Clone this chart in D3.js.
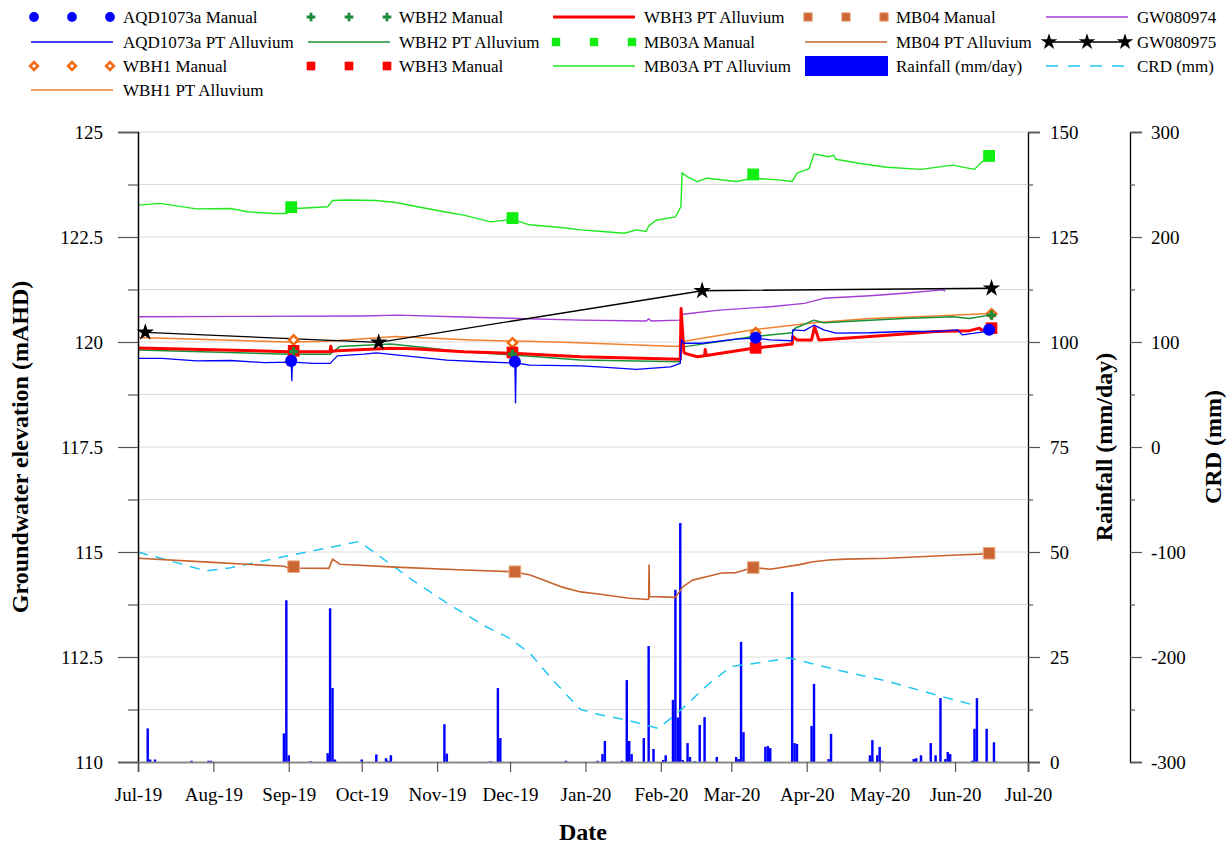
<!DOCTYPE html>
<html>
<head>
<meta charset="utf-8">
<script src="https://cdn.jsdelivr.net/npm/d3@7"></script>
<style>
  body { margin: 0; background: #fff; }
  text { font-family: "Liberation Serif", "Times New Roman", serif; fill: #000; }
</style>
</head>
<body>
<div id="chart"></div>
<script>
// ---- data ----
const monthTicks = ["2019-07-01","2019-08-01","2019-09-01","2019-10-01","2019-11-01","2019-12-01",
  "2020-01-01","2020-02-01","2020-03-01","2020-04-01","2020-05-01","2020-06-01","2020-07-01"];
const elevMajor = [110, 112.5, 115, 117.5, 120, 122.5, 125];
const elevMinor = [111.25, 113.75, 116.25, 118.75, 121.25, 123.75];
const rainMajor = [0, 25, 50, 75, 100, 125, 150];
const rainMinor = [12.5, 37.5, 62.5, 87.5, 112.5, 137.5];
const crdMajor = [-300, -200, -100, 0, 100, 200, 300];
const crdMinor = [-250, -150, -50, 50, 150, 250];

const rainfall = [
  ["2019-07-05",8.0],["2019-07-06",0.6],["2019-07-08",0.6],["2019-07-23",0.3],["2019-07-30",0.3],["2019-07-31",0.3],
  ["2019-08-30",6.8],["2019-08-31",38.5],["2019-09-01",1.6],["2019-09-10",0.2],["2019-09-17",2.1],["2019-09-18",36.6],
  ["2019-09-19",17.6],["2019-09-20",0.6],["2019-10-01",0.6],["2019-10-07",1.8],["2019-10-11",0.9],["2019-10-12",0.3],
  ["2019-10-13",1.6],["2019-11-04",9.0],["2019-11-05",2.0],["2019-11-23",0.2],["2019-11-26",17.6],["2019-11-27",5.7],
  ["2019-12-24",0.3],["2020-01-06",0.3],["2020-01-08",1.9],["2020-01-09",5.0],["2020-01-16",0.3],["2020-01-18",19.5],
  ["2020-01-19",5.0],["2020-01-20",1.9],["2020-01-25",5.7],["2020-01-27",27.6],["2020-01-29",3.1],["2020-02-02",0.5],
  ["2020-02-03",1.6],["2020-02-06",14.8],["2020-02-07",41.0],["2020-02-08",10.6],["2020-02-09",56.9],["2020-02-10",0.5],
  ["2020-02-12",4.5],["2020-02-13",1.2],["2020-02-15",0.2],["2020-02-17",8.8],["2020-02-19",10.7],["2020-02-24",1.2],
  ["2020-03-03",1.2],["2020-03-04",0.7],["2020-03-05",28.6],["2020-03-06",7.1],["2020-03-15",3.6],["2020-03-16",3.8],
  ["2020-03-17",3.3],["2020-03-26",40.5],["2020-03-27",4.5],["2020-03-28",4.3],["2020-04-03",8.6],["2020-04-04",18.6],
  ["2020-04-10",0.7],["2020-04-11",6.7],["2020-04-27",1.6],["2020-04-28",5.2],["2020-04-30",1.6],["2020-05-01",3.6],
  ["2020-05-02",0.3],["2020-05-15",0.7],["2020-05-16",0.9],["2020-05-18",1.6],["2020-05-22",4.5],["2020-05-24",1.6],
  ["2020-05-26",15.2],["2020-05-28",0.7],["2020-05-29",2.4],["2020-05-30",1.9],["2020-06-08",0.3],["2020-06-09",7.9],
  ["2020-06-10",15.2],["2020-06-14",7.9],["2020-06-17",4.7],["2020-06-18",0.1]
];

const crd = [
  ["2019-07-01",-100],["2019-07-29",-118],["2019-08-08",-115],["2019-09-02",-103],["2019-09-30",-90],
  ["2019-10-22",-127],["2019-11-06",-150],["2019-11-21",-171],["2019-11-30",-181],["2019-12-09",-196],
  ["2019-12-19",-223],["2019-12-30",-250],["2020-01-07",-255],["2020-01-18",-260],["2020-01-31",-268],
  ["2020-02-09",-251],["2020-02-21",-225],["2020-03-01",-209],["2020-03-11",-206],["2020-03-25",-201],
  ["2020-04-13",-212],["2020-05-04",-223],["2020-05-24",-236],["2020-06-09",-246]
];

const mb03aPT = [
  ["2019-07-01",123.26],["2019-07-10",123.30],["2019-07-25",123.17],["2019-08-08",123.18],["2019-08-15",123.10],
  ["2019-08-26",123.06],["2019-08-31",123.06],["2019-09-04",123.18],["2019-09-17",123.22],["2019-09-19",123.37],
  ["2019-09-25",123.38],["2019-10-07",123.37],["2019-10-15",123.32],["2019-10-24",123.22],["2019-11-05",123.09],
  ["2019-11-12",123.02],["2019-11-23",122.86],["2019-12-02",122.92],["2019-12-09",122.79],["2019-12-23",122.72],
  ["2019-12-30",122.67],["2020-01-08",122.63],["2020-01-17",122.59],["2020-01-22",122.67],["2020-01-26",122.63],
  ["2020-01-27",122.76],["2020-01-30",122.90],["2020-02-07",122.98],["2020-02-09 06:00",123.22],
  ["2020-02-09 18:00",124.03],["2020-02-12",123.93],["2020-02-16",123.82],["2020-02-20",123.90],["2020-03-03",123.82],
  ["2020-03-10",123.90],["2020-03-20",123.86],["2020-03-26",123.82],["2020-03-28",124.02],["2020-04-02",124.13],
  ["2020-04-04",124.48],["2020-04-10",124.41],["2020-04-12",124.45],["2020-04-13",124.35],["2020-04-23",124.25],
  ["2020-05-04",124.16],["2020-05-18",124.11],["2020-05-31",124.21],["2020-06-09",124.11],["2020-06-12",124.29],
  ["2020-06-15",124.37]
];

const mb04PT = [
  ["2019-07-01",114.85],["2019-07-30",114.76],["2019-08-30",114.66],["2019-09-01",114.62],["2019-09-17 12:00",114.61],
  ["2019-09-19",114.83],["2019-09-22",114.71],["2019-10-15",114.64],["2019-11-12",114.57],["2019-12-02",114.53],
  ["2019-12-09",114.46],["2019-12-22",114.17],["2019-12-30",114.05],["2020-01-08",113.99],["2020-01-19",113.90],
  ["2020-01-27 00:00",113.87],["2020-01-27 04:00",114.69],["2020-01-27 08:00",113.94],["2020-02-07",113.92],
  ["2020-02-10",114.17],["2020-02-14",114.33],["2020-02-21",114.43],["2020-02-26",114.50],["2020-03-03",114.51],
  ["2020-03-10",114.63],["2020-03-17",114.59],["2020-03-29",114.70],["2020-04-03",114.76],["2020-04-10",114.81],
  ["2020-04-17",114.83],["2020-05-04",114.85],["2020-05-22",114.90],["2020-06-02",114.93],["2020-06-11",114.95],
  ["2020-06-15",114.97]
];

const gw080974 = [
  ["2019-07-01",120.60],["2019-08-15",120.61],["2019-10-01",120.62],["2019-10-16",120.64],["2019-11-15",120.59],
  ["2019-12-30",120.52],["2020-01-26",120.50],["2020-01-27",120.55],["2020-01-28",120.50],["2020-02-09",120.52],
  ["2020-02-10",120.66],["2020-02-25",120.76],["2020-03-17",120.84],["2020-03-31",120.92],["2020-04-08",121.04],
  ["2020-04-27",121.10],["2020-05-11",121.16],["2020-05-27",121.24],["2020-05-28",121.21]
];

const wbh1PT = [
  ["2019-07-01",120.11],["2019-09-01",120.00],["2019-09-17",120.02],["2019-10-15",120.13],["2019-11-15",120.05],
  ["2019-12-26",119.99],["2020-02-08",119.89],["2020-02-10",120.01],["2020-03-10",120.29],["2020-04-04",120.46],
  ["2020-04-27",120.56],["2020-05-24",120.62],["2020-06-15",120.68]
];

const wbh2PT = [
  ["2019-07-01",119.81],["2019-09-01",119.71],["2019-09-18",119.71],["2019-09-22",119.89],["2019-10-13",119.95],
  ["2019-11-12",119.77],["2019-12-02",119.69],["2019-12-30",119.57],["2020-02-09 00:00",119.53],
  ["2020-02-09 12:00",120.20],["2020-02-10 06:00",119.92],["2020-02-11",119.89],["2020-03-10",120.13],
  ["2020-03-26",120.22],["2020-03-27",120.32],["2020-04-04",120.52],["2020-04-08",120.46],["2020-04-27",120.52],
  ["2020-05-11",120.56],["2020-05-31",120.60],["2020-06-07",120.56],["2020-06-15",120.64]
];

const wbh3PT = [
  ["2019-07-01",119.86],["2019-09-01",119.77],["2019-09-18 00:00",119.77],["2019-09-18 06:00",119.90],
  ["2019-09-18 18:00",119.78],["2019-09-21",119.79],["2019-10-13",119.85],["2019-10-22",119.84],["2019-11-12",119.77],
  ["2019-12-02",119.73],["2019-12-30",119.65],["2020-02-09 00:00",119.59],["2020-02-09 08:00",120.80],
  ["2020-02-10 12:00",119.75],["2020-02-11",119.73],["2020-02-16",119.65],["2020-02-19 00:00",119.67],
  ["2020-02-19 06:00",119.82],["2020-02-19 18:00",119.68],["2020-03-10",119.85],["2020-03-26 00:00",119.95],
  ["2020-03-26 06:00",120.13],["2020-03-28",120.05],["2020-04-03",120.05],["2020-04-04 06:00",120.36],
  ["2020-04-06",120.05],["2020-04-27",120.13],["2020-05-11",120.19],["2020-05-24",120.25],["2020-06-07",120.27],
  ["2020-06-11",120.33],["2020-06-12",120.28],["2020-06-15",120.30]
];

const aqdPT = [
  ["2019-07-01",119.61],["2019-07-11",119.61],["2019-07-18",119.58],["2019-07-25",119.55],["2019-08-08",119.56],
  ["2019-08-22",119.51],["2019-09-02 00:00",119.52],["2019-09-02 06:00",119.08],["2019-09-02 12:00",119.52],
  ["2019-09-11",119.49],["2019-09-18",119.49],["2019-09-21",119.67],["2019-10-02",119.71],["2019-10-07",119.74],
  ["2019-10-22",119.65],["2019-11-05",119.57],["2019-11-19",119.53],["2019-12-03 00:00",119.50],
  ["2019-12-03 06:00",118.55],["2019-12-03 12:00",119.50],["2019-12-09",119.45],["2019-12-30",119.43],
  ["2020-01-08",119.40],["2020-01-22",119.35],["2020-02-05",119.41],["2020-02-09 00:00",119.49],
  ["2020-02-09 12:00",120.05],["2020-02-10 12:00",119.97],["2020-02-18",119.97],["2020-03-03",120.07],
  ["2020-03-11",120.09],["2020-03-17",120.05],["2020-03-26 00:00",120.03],["2020-03-26 06:00",120.29],
  ["2020-03-31",120.27],["2020-04-04",120.40],["2020-04-08",120.29],["2020-04-13",120.21],["2020-04-27",120.22],
  ["2020-05-11",120.25],["2020-05-24",120.25],["2020-06-02",120.29],["2020-06-04",120.17],["2020-06-15",120.26]
];

const gw080975 = [["2019-07-04",120.23],["2019-10-08",119.99],["2020-02-18",121.22],["2020-06-16",121.28]];

const aqdManual = [["2019-09-02",119.55],["2019-12-03",119.53],["2020-03-11",120.10],["2020-06-15",120.29]];
const wbh1Manual = [["2019-09-03",120.05],["2019-12-02",119.98],["2020-03-11",120.22],["2020-06-16",120.67]];
const wbh2Manual = [["2019-09-03",119.77],["2019-12-02",119.71],["2020-03-11",120.13],["2020-06-16",120.64]];
const wbh3Manual = [["2019-09-03",119.79],["2019-12-02",119.75],["2020-03-11",119.86],["2020-06-16",120.33]];
const mb03aManual = [["2019-09-02",123.21],["2019-12-02",122.95],["2020-03-10",123.99],["2020-06-15",124.43]];
const mb04Manual = [["2019-09-03",114.65],["2019-12-03",114.53],["2020-03-10",114.63],["2020-06-15",114.97]];

// ---- setup ----
const fmtIn = d3.timeParse("%Y-%m-%d %H:%M");
const parse = s => fmtIn(s.length > 10 ? s : s + " 00:00");

const W = 1229, H = 845;
const plotL = 138, plotR = 1028, plotT = 132, plotB = 762;

const svg = d3.select("#chart").append("svg").attr("width", W).attr("height", H);
svg.append("rect").attr("width", W).attr("height", H).attr("fill", "#fff");

const x = d3.scaleTime().domain([parse("2019-07-01"), parse("2020-07-01")]).range([plotL, plotR]);
const y = d3.scaleLinear().domain([110, 125]).range([plotB, plotT]);
const yRain = d3.scaleLinear().domain([0, 150]).range([plotB, plotT]);
const yCrd = d3.scaleLinear().domain([-300, 300]).range([plotB, plotT]);

// grid
svg.append("g").selectAll("line").data(elevMajor.concat(elevMinor).filter(d => d > 110)).join("line")
  .attr("x1", plotL).attr("x2", plotR)
  .attr("y1", d => y(d)).attr("y2", d => y(d))
  .attr("stroke", "#dcdcdc").attr("stroke-width", 1);

// rainfall bars
const dayW = x(parse("2019-07-02")) - x(parse("2019-07-01"));
svg.append("g").selectAll("rect").data(rainfall).join("rect")
  .attr("x", d => x(parse(d[0])) - dayW / 2)
  .attr("width", dayW)
  .attr("y", d => yRain(d[1]))
  .attr("height", d => yRain(0) - yRain(d[1]))
  .attr("fill", "#0000ff");

// CRD dashed
svg.append("path").datum(crd)
  .attr("d", d3.line().x(d => x(parse(d[0]))).y(d => yCrd(d[1])))
  .attr("fill", "none").attr("stroke", "#22c6f2").attr("stroke-width", 1.5)
  .attr("stroke-dasharray", "10,8");

// lines
const lineGen = d3.line().x(d => x(parse(d[0]))).y(d => y(d[1]));
function drawLine(data, color, width) {
  svg.append("path").datum(data)
    .attr("d", lineGen)
    .attr("fill", "none").attr("stroke", color)
    .attr("stroke-width", width).attr("stroke-linejoin", "round");
}
drawLine(gw080974, "#a23ed6", 1.4);
drawLine(mb03aPT, "#1fe81f", 1.4);
drawLine(mb04PT, "#c8632e", 1.6);
drawLine(wbh1PT, "#f2822f", 1.5);
drawLine(wbh2PT, "#179239", 1.5);
drawLine(wbh3PT, "#ff0000", 3);
drawLine(aqdPT, "#0000ff", 1.3);
drawLine(gw080975, "#000", 1.3);

// markers
const symbols = {
  circle: d3.symbolCircle, cross: d3.symbolCross, square: d3.symbolSquare,
  diamond: d3.symbolSquare, star: d3.symbolStar
};
const styles = {
  aqd: { sym: "circle", fill: "#0000ff", stroke: "none", sw: 0, size: 115, lsize: 75 },
  wbh1: { sym: "diamond", fill: "#fff", stroke: "#f26b12", sw: 2.6, size: 42, lsize: 30 },
  wbh2: { sym: "cross", fill: "#1b8a3a", stroke: "none", sw: 0, size: 50, lsize: 42 },
  wbh3: { sym: "square", fill: "#ff0000", stroke: "none", sw: 0, size: 135, lsize: 75 },
  mb03a: { sym: "square", fill: "#11ee11", stroke: "none", sw: 0, size: 140, lsize: 70 },
  mb04: { sym: "square", fill: "#cc6633", stroke: "#e8a882", sw: 1, size: 135, lsize: 70 },
  gw75: { sym: "star", fill: "#000", stroke: "none", sw: 0, size: 95, lsize: 85 }
};
function marker(g, st, cx, cy, size) {
  g.append("path")
    .attr("d", d3.symbol(symbols[st.sym], size)())
    .attr("transform", `translate(${cx},${cy})` + (st.sym === "diamond" ? " rotate(45)" : ""))
    .attr("fill", st.fill).attr("stroke", st.stroke).attr("stroke-width", st.sw);
}
function drawMarkers(data, st) {
  const g = svg.append("g");
  data.forEach(d => marker(g, st, x(parse(d[0])), y(d[1]), st.size));
}
drawMarkers(mb04Manual, styles.mb04);
drawMarkers(mb03aManual, styles.mb03a);
drawMarkers(gw080975, styles.gw75);
drawMarkers(wbh1Manual, styles.wbh1);
drawMarkers(wbh3Manual, styles.wbh3);
drawMarkers(wbh2Manual, styles.wbh2);
drawMarkers(aqdManual, styles.aqd);

// ---- axes ----
const fontTick = "19px";
// left
const gL = svg.append("g").attr("transform", `translate(${plotL},0)`);
gL.call(d3.axisLeft(y).tickValues(elevMajor).tickSize(20).tickPadding(15).tickFormat(d => String(d)));
gL.selectAll(".tick text").style("font-size", fontTick);
const gLm = svg.append("g").attr("transform", `translate(${plotL},0)`)
  .call(d3.axisLeft(y).tickValues(elevMinor).tickSize(10).tickFormat(""));
gLm.select(".domain").remove();
gL.select(".domain").attr("stroke", "#000").attr("stroke-width", 1.5);

// bottom
const gB = svg.append("g").attr("transform", `translate(0,${plotB})`)
  .call(d3.axisBottom(x).tickValues(monthTicks.map(parse)).tickSize(10).tickPadding(16)
    .tickFormat(d3.timeFormat("%b-%y")));
gB.select(".domain").attr("stroke", "#8a8a8a").attr("stroke-width", 2);
gB.selectAll(".tick text").style("font-size", fontTick);

// rainfall axis
const gR = svg.append("g").attr("transform", `translate(${plotR},0)`)
  .call(d3.axisRight(yRain).tickValues(rainMajor).tickSize(12).tickPadding(10).tickFormat(d => String(d)));
gR.select(".domain").attr("stroke", "#000").attr("stroke-width", 1.3);
gR.selectAll(".tick text").style("font-size", fontTick);
const gRm = svg.append("g").attr("transform", `translate(${plotR},0)`)
  .call(d3.axisRight(yRain).tickValues(rainMinor).tickSize(5).tickFormat(""));
gRm.select(".domain").remove();

// CRD axis
const crdX = 1130;
const gC = svg.append("g").attr("transform", `translate(${crdX},0)`)
  .call(d3.axisRight(yCrd).tickValues(crdMajor).tickSize(12).tickPadding(9).tickFormat(d => String(d)));
gC.select(".domain").attr("stroke", "#000").attr("stroke-width", 1.3);
gC.selectAll(".tick text").style("font-size", fontTick);
const gCm = svg.append("g").attr("transform", `translate(${crdX},0)`)
  .call(d3.axisRight(yCrd).tickValues(crdMinor).tickSize(5).tickFormat(""));
gCm.select(".domain").remove();

svg.selectAll(".tick text").attr("fill", "#000").style("font-family", "Liberation Serif");
svg.selectAll(".tick line").attr("stroke", "#555").attr("stroke-width", 1.2);

// axis titles
const midY = (plotT + plotB) / 2;
svg.append("text").attr("transform", `translate(28,${midY}) rotate(-90)`)
  .attr("text-anchor", "middle").style("font-size", "24px").style("font-weight", "bold")
  .text("Groundwater elevation (mAHD)");
svg.append("text").attr("transform", `translate(1112,${midY}) rotate(-90)`)
  .attr("text-anchor", "middle").style("font-size", "24px").style("font-weight", "bold")
  .text("Rainfall (mm/day)");
svg.append("text").attr("transform", `translate(1221,${midY}) rotate(-90)`)
  .attr("text-anchor", "middle").style("font-size", "24px").style("font-weight", "bold")
  .text("CRD (mm)");
svg.append("text").attr("x", (plotL + plotR) / 2).attr("y", 840)
  .attr("text-anchor", "middle").style("font-size", "24px").style("font-weight", "bold")
  .text("Date");

// ---- legend ----
const colX = [31, 308, 553, 805, 1046];
const textX = [123, 399, 644, 896, 1137];
const rowY = [17, 42, 66, 90];
const legendItems = [
  { label: "AQD1073a Manual", kind: "markers", st: styles.aqd, col: 0, row: 0 },
  { label: "WBH2 Manual", kind: "markers", st: styles.wbh2, col: 1, row: 0 },
  { label: "WBH3 PT Alluvium", kind: "line", color: "#ff0000", w: 3, col: 2, row: 0 },
  { label: "MB04 Manual", kind: "markers", st: styles.mb04, col: 3, row: 0 },
  { label: "GW080974", kind: "line", color: "#a23ed6", w: 1.5, col: 4, row: 0 },
  { label: "AQD1073a PT Alluvium", kind: "line", color: "#0000ff", w: 1.5, col: 0, row: 1 },
  { label: "WBH2 PT Alluvium", kind: "line", color: "#179239", w: 1.5, col: 1, row: 1 },
  { label: "MB03A Manual", kind: "markers", st: styles.mb03a, col: 2, row: 1 },
  { label: "MB04 PT Alluvium", kind: "line", color: "#c8632e", w: 1.5, col: 3, row: 1 },
  { label: "GW080975", kind: "starline", st: styles.gw75, col: 4, row: 1 },
  { label: "WBH1 Manual", kind: "markers", st: styles.wbh1, col: 0, row: 2 },
  { label: "WBH3 Manual", kind: "markers", st: styles.wbh3, col: 1, row: 2 },
  { label: "MB03A PT Alluvium", kind: "line", color: "#1fe81f", w: 1.5, col: 2, row: 2 },
  { label: "Rainfall (mm/day)", kind: "rect", color: "#0000ff", col: 3, row: 2 },
  { label: "CRD (mm)", kind: "dash", color: "#22c6f2", w: 1.5, col: 4, row: 2 },
  { label: "WBH1 PT Alluvium", kind: "line", color: "#f5a26a", w: 2, col: 0, row: 3 }
];
const lg = svg.append("g");
legendItems.forEach(it => {
  const x0 = colX[it.col], x1 = x0 + 82, cy = rowY[it.row];
  if (it.kind === "line" || it.kind === "dash" || it.kind === "starline") {
    lg.append("line").attr("x1", x0).attr("x2", x1).attr("y1", cy).attr("y2", cy)
      .attr("stroke", it.kind === "starline" ? "#000" : it.color)
      .attr("stroke-width", it.w || 1.3)
      .attr("stroke-dasharray", it.kind === "dash" ? "12,10" : null);
  }
  if (it.kind === "markers" || it.kind === "starline") {
    [x0 + 3, x0 + 41, x0 + 79].forEach(mx => marker(lg, it.st, mx, cy, it.st.lsize));
  }
  if (it.kind === "rect") {
    lg.append("rect").attr("x", x0).attr("y", cy - 10).attr("width", 83).attr("height", 20)
      .attr("fill", it.color);
  }
  lg.append("text").attr("x", textX[it.col]).attr("y", cy + 6)
    .style("font-size", "17px").text(it.label);
});
</script>
</body>
</html>
